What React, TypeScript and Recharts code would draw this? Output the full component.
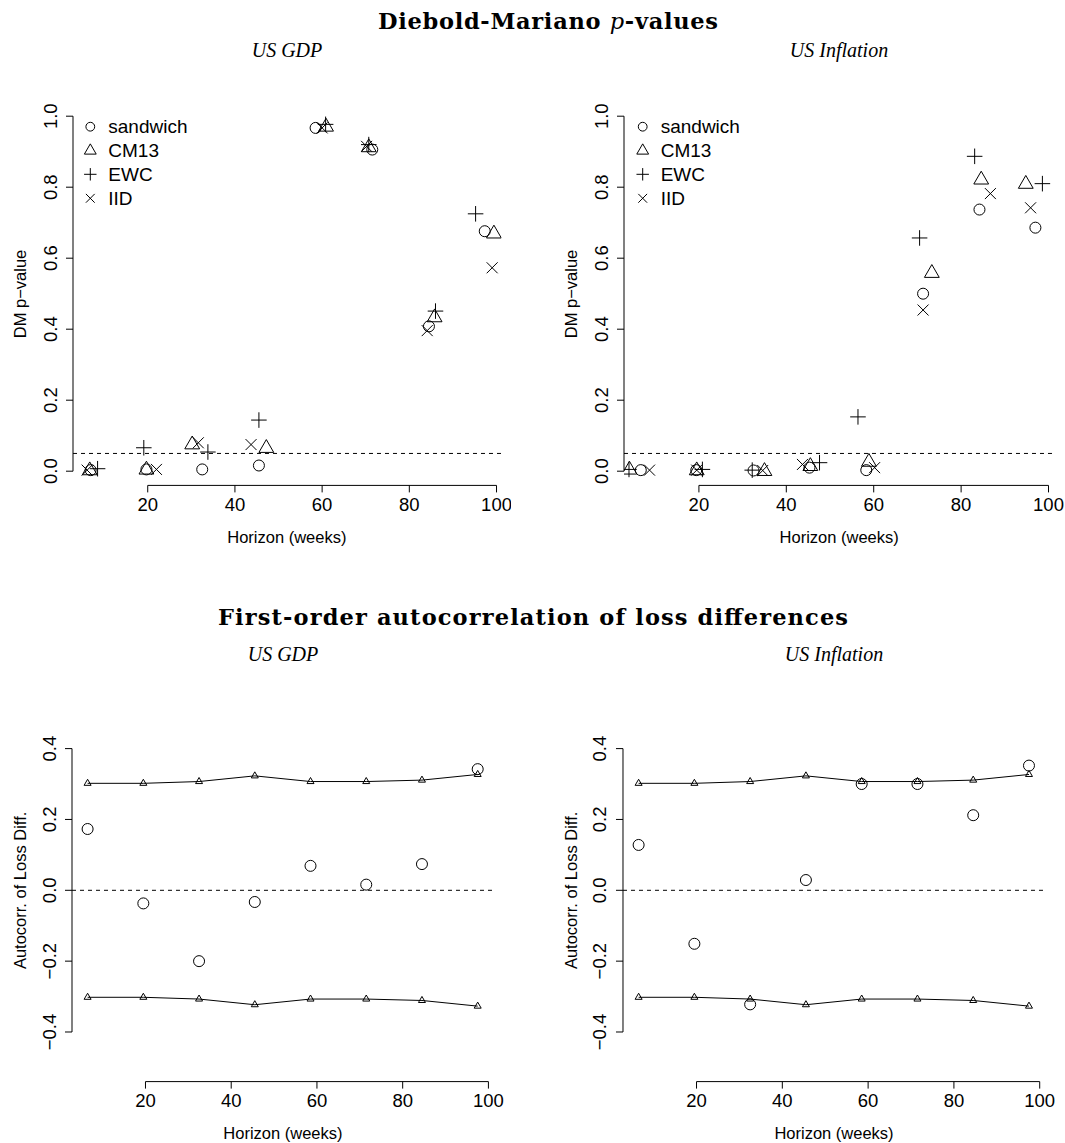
import React from "react";
import {
  ScatterChart,
  Scatter,
  XAxis,
  YAxis,
  ReferenceLine,
} from "recharts";

// ---- data ----
const horizons = [6.5, 19.5, 32.5, 45.5, 58.5, 71.5, 84.5, 97.5];

// DM p-values, US GDP (x positions are jittered around the horizons)
const gdpSandwichH = [6.9, 19.7, 32.5, 45.5, 58.5, 71.5, 84.5, 97.3];
const gdpSandwichP = [0.003, 0.005, 0.005, 0.016, 0.967, 0.906, 0.408, 0.676];
const gdpCm13H = [6.7, 19.7, 30.2, 47.2, 60.9, 70.7, 85.8, 99.4];
const gdpCm13P = [0.002, 0.004, 0.075, 0.065, 0.97, 0.912, 0.433, 0.669];
const gdpEwcH = [8.5, 19.1, 33.8, 45.5, 60.8, 70.7, 86.0, 95.2];
const gdpEwcP = [0.007, 0.066, 0.054, 0.144, 0.977, 0.92, 0.451, 0.725];
const gdpIidH = [6.1, 22.0, 31.6, 43.7, 60.0, 70.2, 84.1, 99.0];
const gdpIidP = [0.003, 0.005, 0.08, 0.075, 0.967, 0.915, 0.396, 0.573];

// DM p-values, US Inflation
const infSandwichH = [6.7, 19.4, 32.5, 45.3, 58.3, 71.3, 84.2, 97.0];
const infSandwichP = [0.003, 0.003, 0.002, 0.01, 0.003, 0.5, 0.737, 0.686];
const infCm13H = [4.1, 19.5, 35.0, 45.5, 58.9, 73.3, 84.6, 94.8];
const infCm13P = [0.004, 0.002, 0.0, 0.014, 0.026, 0.558, 0.821, 0.809];
const infEwcH = [4.0, 20.8, 32.2, 47.6, 56.4, 70.5, 83.1, 98.6];
const infEwcP = [0.005, 0.005, 0.003, 0.024, 0.153, 0.657, 0.887, 0.81];
const infIidH = [8.7, 19.5, 34.6, 43.7, 60.2, 71.3, 86.7, 95.9];
const infIidP = [0.003, 0.003, 0.002, 0.019, 0.01, 0.454, 0.782, 0.742];

// first-order autocorrelation of loss differences
const bandUpper = [0.302, 0.302, 0.307, 0.323, 0.307, 0.307, 0.311, 0.327];
const bandLower = [-0.302, -0.302, -0.307, -0.323, -0.307, -0.307, -0.311, -0.327];
const gdpAutocorr = [0.173, -0.037, -0.2, -0.033, 0.069, 0.016, 0.074, 0.342];
const infAutocorr = [0.128, -0.151, -0.322, 0.029, 0.3, 0.3, 0.212, 0.352];

const xTicks = [20, 40, 60, 80, 100];
const pTicks = [0, 0.2, 0.4, 0.6, 0.8, 1.0];
const acTicks = [-0.4, -0.2, 0, 0.2, 0.4];
const legendLabels = ["sandwich", "CM13", "EWC", "IID"];

const SANS = "'Liberation Sans', Arial, Helvetica, sans-serif";
const XDOM: [number, number] = [2.86, 101.14];

const zip = (xs: number[], ys: number[]) => xs.map((x, i) => ({ x, y: ys[i] }));

// ---- R-style plotting symbols ----
function Circle({ cx, cy, s }: any) {
  return <circle cx={cx} cy={cy} r={s} fill="none" stroke="#000" strokeWidth={1} />;
}
function Triangle({ cx, cy, s }: any) {
  const r = 1.555 * s;
  const yc = 0.778 * s;
  const xc = 1.347 * s;
  return (
    <polygon
      points={`${cx},${cy - r} ${cx + xc},${cy + yc} ${cx - xc},${cy + yc}`}
      fill="none"
      stroke="#000"
      strokeWidth={1}
    />
  );
}
function Plus({ cx, cy, s }: any) {
  const h = 1.414 * s;
  return (
    <path d={`M${cx - h},${cy}H${cx + h}M${cx},${cy - h}V${cy + h}`} stroke="#000" strokeWidth={1} fill="none" />
  );
}
function Cross({ cx, cy, s }: any) {
  return (
    <path
      d={`M${cx - s},${cy - s}L${cx + s},${cy + s}M${cx - s},${cy + s}L${cx + s},${cy - s}`}
      stroke="#000"
      strokeWidth={1}
      fill="none"
    />
  );
}
const SYMBOLS = [Circle, Triangle, Plus, Cross];

const fmt = (v: number) => {
  const s = Math.abs(v).toFixed(1);
  return v < -1e-9 ? "\u2212" + s : s;
};

const XTick = (p: any) => (
  <text x={p.x} y={p.y + 12} textAnchor="middle" dominantBaseline="central" fontSize={18.5} fontFamily={SANS} fill="#000">
    {p.payload.value}
  </text>
);
const YTick = (p: any) => (
  <g transform={`translate(${p.x - 16},${p.y}) rotate(-90)`}>
    <text x={0} y={0} textAnchor="middle" dominantBaseline="central" fontSize={18.5} fontFamily={SANS} fill="#000">
      {fmt(p.payload.value)}
    </text>
  </g>
);

interface PanelProps {
  left: number;
  top: number;
  width: number;
  height: number;
  yDomain: [number, number];
  yTicks: number[];
  refY: number;
  children: React.ReactNode;
}

function Panel({ left, top, width, height, yDomain, yTicks, refY, children }: PanelProps) {
  const W = width + 80;
  const H = height + 70;
  return (
    <div style={{ position: "absolute", left: left - 70, top: top - 10 }}>
      <ScatterChart width={W} height={H} margin={{ top: 10, right: 10, bottom: 0, left: 0 }}>
        <XAxis
          type="number"
          dataKey="x"
          domain={XDOM}
          ticks={xTicks}
          interval={0}
          allowDataOverflow
          axisLine={false}
          tickLine={{ stroke: "#000" }}
          tickSize={7}
          tickMargin={0}
          tick={XTick}
          height={60}
        />
        <YAxis
          type="number"
          dataKey="y"
          domain={yDomain}
          ticks={yTicks}
          interval={0}
          allowDataOverflow
          axisLine={false}
          tickLine={{ stroke: "#000" }}
          tickSize={7}
          tickMargin={0}
          tick={YTick}
          width={70}
        />
        <ReferenceLine
          segment={[{ x: 20, y: yDomain[0] }, { x: 100, y: yDomain[0] }]}
          stroke="#000"
          ifOverflow="visible"
        />
        <ReferenceLine
          segment={[{ x: XDOM[0], y: yTicks[0] }, { x: XDOM[0], y: yTicks[yTicks.length - 1] }]}
          stroke="#000"
          ifOverflow="visible"
        />
        <ReferenceLine y={refY} stroke="#000" strokeDasharray="4 4" strokeWidth={1} />
        {children}
      </ScatterChart>
    </div>
  );
}

function dmSeries(series: { x: number; y: number }[][]) {
  return series.map((d, i) => {
    const Sym = SYMBOLS[i];
    return (
      <Scatter
        key={i}
        data={d}
        isAnimationActive={false}
        shape={(p: any) => <Sym cx={p.cx} cy={p.cy} s={5.5} />}
      />
    );
  });
}

function acSeries(values: number[]) {
  const tri = (p: any) => <Triangle cx={p.cx} cy={p.cy} s={2.6} />;
  return [
    <Scatter
      key="up"
      data={zip(horizons, bandUpper)}
      isAnimationActive={false}
      line={{ stroke: "#000", strokeWidth: 1 }}
      shape={tri}
    />,
    <Scatter
      key="lo"
      data={zip(horizons, bandLower)}
      isAnimationActive={false}
      line={{ stroke: "#000", strokeWidth: 1 }}
      shape={tri}
    />,
    <Scatter
      key="ac"
      data={zip(horizons, values)}
      isAnimationActive={false}
      shape={(p: any) => <Circle cx={p.cx} cy={p.cy} s={5.5} />}
    />,
  ];
}

function Legend({ x, y }: { x: number; y: number }) {
  const rows = [0, 24, 47.6, 71.6];
  return (
    <g>
      {legendLabels.map((lab, i) => {
        const Sym = SYMBOLS[i];
        return (
          <g key={lab}>
            <Sym cx={x} cy={y + rows[i]} s={4.4} />
            <text x={x + 18} y={y + rows[i]} dominantBaseline="central" fontSize={19} fontFamily={SANS} fill="#000">
              {lab}
            </text>
          </g>
        );
      })}
    </g>
  );
}

const TL = { left: 72.6, top: 102.3, width: 428.5, height: 383.4 };
const TR = { left: 624.4, top: 102.3, width: 429.5, height: 383.4 };
const BL = { left: 72.3, top: 699.1, width: 421.3, height: 382.6 };
const BR = { left: 623.2, top: 699.1, width: 421.6, height: 382.6 };

export default function App() {
  const gdpDM = [
    zip(gdpSandwichH, gdpSandwichP),
    zip(gdpCm13H, gdpCm13P),
    zip(gdpEwcH, gdpEwcP),
    zip(gdpIidH, gdpIidP),
  ];
  const infDM = [
    zip(infSandwichH, infSandwichP),
    zip(infCm13H, infCm13P),
    zip(infEwcH, infEwcP),
    zip(infIidH, infIidP),
  ];
  const serifBold = "'DejaVu Serif', 'Liberation Serif', serif";
  const serifIt = "'Liberation Serif', 'DejaVu Serif', serif";

  return (
    <div style={{ position: "absolute", left: 0, top: 0, width: 1065, height: 1143, background: "#fff" }}>
      <Panel {...TL} yDomain={[-0.04, 1.04]} yTicks={pTicks} refY={0.05}>
        {dmSeries(gdpDM)}
      </Panel>
      <Panel {...TR} yDomain={[-0.04, 1.04]} yTicks={pTicks} refY={0.05}>
        {dmSeries(infDM)}
      </Panel>
      <Panel {...BL} yDomain={[-0.54, 0.54]} yTicks={acTicks} refY={0}>
        {acSeries(gdpAutocorr)}
      </Panel>
      <Panel {...BR} yDomain={[-0.54, 0.54]} yTicks={acTicks} refY={0}>
        {acSeries(infAutocorr)}
      </Panel>

      <svg
        width={1065}
        height={1143}
        style={{ position: "absolute", left: 0, top: 0, pointerEvents: "none" }}
      >
        <text x={548} y={29} textAnchor="middle" fontFamily={serifBold} fontWeight="bold" fontSize={22.5} textLength={340} lengthAdjust="spacing">
          Diebold-Mariano <tspan fontStyle="italic" fontWeight="normal">p</tspan>-values
        </text>
        <text x={533} y={625} textAnchor="middle" fontFamily={serifBold} fontWeight="bold" fontSize={22.5} textLength={630} lengthAdjust="spacing">
          First-order autocorrelation of loss differences
        </text>

        <text x={287} y={57} textAnchor="middle" fontFamily={serifIt} fontStyle="italic" fontSize={20}>US GDP</text>
        <text x={839} y={57} textAnchor="middle" fontFamily={serifIt} fontStyle="italic" fontSize={20}>US Inflation</text>
        <text x={283} y={661} textAnchor="middle" fontFamily={serifIt} fontStyle="italic" fontSize={20}>US GDP</text>
        <text x={834} y={661} textAnchor="middle" fontFamily={serifIt} fontStyle="italic" fontSize={20}>US Inflation</text>

        {/* axis titles */}
        <text x={TL.left + TL.width / 2} y={542.7} textAnchor="middle" fontFamily={SANS} fontSize={16.5}>Horizon (weeks)</text>
        <text x={TR.left + TR.width / 2} y={542.7} textAnchor="middle" fontFamily={SANS} fontSize={16.5}>Horizon (weeks)</text>
        <text x={BL.left + BL.width / 2} y={1138.7} textAnchor="middle" fontFamily={SANS} fontSize={16.5}>Horizon (weeks)</text>
        <text x={BR.left + BR.width / 2} y={1138.7} textAnchor="middle" fontFamily={SANS} fontSize={16.5}>Horizon (weeks)</text>

        <g transform={`translate(20,294) rotate(-90)`}>
          <text textAnchor="middle" dominantBaseline="central" fontFamily={SANS} fontSize={16.5}>DM p{"\u2212"}value</text>
        </g>
        <g transform={`translate(571.4,294) rotate(-90)`}>
          <text textAnchor="middle" dominantBaseline="central" fontFamily={SANS} fontSize={16.5}>DM p{"\u2212"}value</text>
        </g>
        <g transform={`translate(20,890.4) rotate(-90)`}>
          <text textAnchor="middle" dominantBaseline="central" fontFamily={SANS} fontSize={16.5}>Autocorr. of Loss Diff.</text>
        </g>
        <g transform={`translate(570.5,890.4) rotate(-90)`}>
          <text textAnchor="middle" dominantBaseline="central" fontFamily={SANS} fontSize={16.5}>Autocorr. of Loss Diff.</text>
        </g>

        <Legend x={90.3} y={126.7} />
        <Legend x={642.7} y={126.7} />
      </svg>
    </div>
  );
}
